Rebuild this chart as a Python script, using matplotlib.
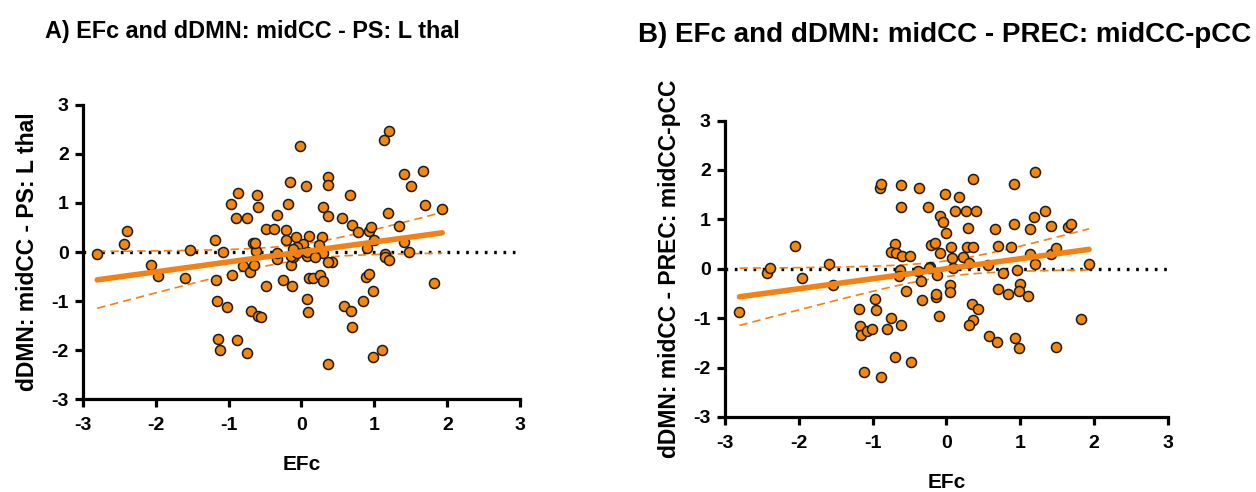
import numpy as np
import matplotlib
matplotlib.use("Agg")
import matplotlib.pyplot as plt

plt.rcParams['font.family'] = ['Liberation Sans', 'DejaVu Sans']
plt.rcParams['font.weight'] = 'bold'

# ---------------- data ----------------
efc_a = [-2.80, -2.39, -2.43, -2.06, -1.96, -1.60, -1.53, -1.18, -1.08, -1.17,
         -1.16, -1.02, -1.15, -1.11, -0.95, -0.88, -0.875, -0.967, -0.90, -0.75,
         -0.80, -0.74, -0.70, -0.65, -0.62, -0.67, -0.64, -0.69, -0.60, -0.56,
         -0.61, -0.60, -0.49, -0.37, -0.34, -0.48, -0.33, -0.25, -0.18, -0.16,
         -0.02, 0.06, -0.21, -0.21, -0.08, -0.13, -0.15, -0.12, 0.07, 0.08,
         0.09, 0.11, 0.11, 0.28, 0.02, 0.24, -0.06, 0.07, 0.30, 0.365,
         0.365, 0.67, 0.29, 0.37, 0.56, 0.69, 0.77, 0.93, 0.96, 1.00,
         0.90, 1.13, 1.20, 1.41, 1.50, 1.66, 1.69, 1.93, 1.19, 1.34,
         1.40, 1.48, 1.14, 0.42, 0.36, 0.16, 0.26, 0.30, 0.36, 0.58,
         0.68, 0.70, 0.84, 0.88, 0.93, 0.985, 0.985, 1.10, 1.14, 1.20,
         1.82, -0.14, -0.06, 0.19, -0.11, -0.33]
dmn_a = [-0.05, 0.43, 0.17, -0.27, -0.49, -0.54, 0.04, 0.24, 0.00, -0.58,
         -0.99, -1.12, -1.78, -2.00, -0.47, -1.79, 1.20, 0.97, 0.69, 0.69,
         -0.29, -2.07, -0.41, -0.26, 0.03, 0.19, 0.19, -1.21, -1.31, -1.32,
         1.16, 0.91, 0.46, 0.46, 0.76, -0.69, -0.14, -0.57, 0.97, 1.43,
         2.17, 1.35, 0.45, 0.24, 0.30, -0.69, -0.27, -0.10, -0.09, -0.96,
         -1.23, -0.54, 0.33, 0.31, 0.16, 0.14, 0.10, 0.00, -0.03, 1.54,
         1.36, 1.16, 0.92, 0.74, 0.70, 0.56, 0.41, 0.43, 0.52, 0.24,
         0.08, 2.29, 2.46, 1.59, 1.35, 1.65, 0.96, 0.88, 0.80, 0.54,
         0.21, -0.01, -0.05, -0.20, -0.20, -0.53, -0.46, -0.59, -2.29, -1.11,
         -1.20, -1.54, -1.01, -0.51, -0.44, -0.79, -2.15, -2.01, -0.10, -0.17,
         -0.63, -0.08, -0.03, -0.10, 0.06, -0.03]

efc_b = [-2.80, -2.43, -2.39, -2.05, -1.95, -1.59, -1.53, -1.18, -1.17, -1.15,
         -1.07, -1.01, -0.97, -0.95, -1.12, -0.88, -0.90, -0.88, -0.75, -0.80,
         -0.61, -0.69, -0.48, -0.61, -0.62, -0.37, -0.25, -0.02, -0.09, -0.05,
         0.00, -0.69, -0.75, -0.68, -0.60, -0.49, -0.21, -0.16, -0.09, 0.06,
         0.07, -0.63, -0.64, -0.22, -0.13, -0.34, -0.55, 0.05, 0.05, -0.33,
         -0.14, -0.10, 0.36, 0.17, 0.12, 0.27, 0.40, 0.29, 0.66, 0.91,
         1.20, 0.92, 1.13, 1.19, 1.34, 1.41, 1.65, 1.69, 0.28, 0.36,
         0.70, 0.87, 0.23, 0.31, 0.09, 0.56, 1.13, 1.41, 1.49, 1.20,
         1.93, 0.77, 0.96, 0.70, 0.99, 0.35, 0.43, 0.36, 0.31, 0.58,
         0.68, 0.84, 0.98, 1.10, 0.93, 0.98, 1.49, 1.82, -0.23, -0.14,
         -0.38]
dmn_b = [-0.88, -0.09, 0.01, 0.47, -0.18, 0.10, -0.32, -0.82, -1.15, -1.34,
         -1.27, -1.22, -0.62, -0.84, -2.10, -2.19, 1.64, 1.71, -1.00, -1.21,
         -1.14, -1.79, -1.89, 1.69, 1.24, 1.64, 1.24, 1.51, 1.07, 0.94,
         0.73, 0.51, 0.34, 0.32, 0.26, 0.26, 0.49, 0.53, 0.32, 0.44,
         0.22, -0.03, -0.14, 0.03, -0.13, -0.25, -0.45, -0.33, -0.47, -0.64,
         -0.57, -0.95, 1.82, 1.45, 1.17, 1.17, 1.17, 0.82, 0.80, 1.71,
         1.95, 0.90, 0.81, 1.05, 1.17, 0.86, 0.85, 0.91, 0.45, 0.45,
         0.47, 0.45, 0.24, 0.12, 0.01, 0.07, 0.29, 0.30, 0.41, 0.09,
         0.10, -0.09, -0.02, -0.41, -0.31, -0.71, -0.82, -1.04, -1.14, -1.36,
         -1.48, -0.52, -0.45, -0.55, -1.40, -1.61, -1.59, -1.02, 0.01, -0.52,
         -0.05]

# fitted line and 95% band as drawn (same in both panels)
fit_intercept = 0.0
fit_slope = 0.203
band_a = 0.0255   # band half-width^2 at mean
band_b = 0.0396   # growth of band half-width^2 with distance from mean

titles = ["A) EFc and dDMN: midCC - PS: L thal",
          "B) EFc and dDMN: midCC - PREC: midCC-pCC"]
ylabels = ["dDMN: midCC - PS: L thal", "dDMN: midCC - PREC: midCC-pCC"]
xlabel = "EFc"
ticks = [-3, -2, -1, 0, 1, 2, 3]

# ---------------- plotting ----------------
ORANGE = '#F5870C'
LINE = '#F28216'

fig = plt.figure(figsize=(12.56, 4.92), dpi=100)
ax_a = fig.add_axes([0.0658, 0.189, 0.3484, 0.5976])
ax_b = fig.add_axes([0.577, 0.1526, 0.353, 0.6024])


def draw(ax, x, y, ylabel):
    x = np.asarray(x)
    y = np.asarray(y)
    ax.set_xlim(-3, 3)
    ax.set_ylim(-3, 3)
    ax.axhline(0, color='black', lw=2.4, ls=(0, (0.8, 2.0)), zorder=1)
    xf = np.linspace(x.min(), x.max(), 100)
    yf = fit_intercept + fit_slope * xf
    h = np.sqrt(band_a + band_b * (xf - 0.0) ** 2)
    ax.plot(xf, yf + h, color=LINE, lw=1.2, ls=(0, (5, 3)), zorder=2)
    ax.plot(xf, yf - h, color=LINE, lw=1.2, ls=(0, (5, 3)), zorder=2)
    ax.scatter(x, y, s=52, facecolor=ORANGE, edgecolor='#1a1a1a',
               linewidth=1.1, zorder=3)
    ax.plot(xf, yf, color=LINE, lw=4, solid_capstyle='round', zorder=4)
    for s in ['top', 'right']:
        ax.spines[s].set_visible(False)
    for s in ['left', 'bottom']:
        ax.spines[s].set_linewidth(2.3)
    ax.set_xticks(ticks)
    ax.set_yticks(ticks)
    ax.set_xticklabels([str(t) for t in ticks], fontsize=14, fontweight='bold')
    ax.set_yticklabels([str(t) for t in ticks], fontsize=14, fontweight='bold')
    ax.tick_params(width=2.3, length=6, direction='out')
    ax.tick_params(axis='x', pad=7)
    ax.tick_params(axis='y', pad=4)
    ax.set_xlabel(xlabel, fontsize=15, fontweight='bold', labelpad=15)
    ax.set_ylabel(ylabel, fontsize=16.5, fontweight='bold', labelpad=9)


draw(ax_a, efc_a, dmn_a, ylabels[0])
draw(ax_b, efc_b, dmn_b, ylabels[1])

fig.text(0.036, 0.935, titles[0], fontsize=16.8, fontweight='bold',
         ha='left', va='center')
fig.text(0.508, 0.928, titles[1], fontsize=20, fontweight='bold',
         ha='left', va='center')

fig.savefig('out.png', dpi=100)
